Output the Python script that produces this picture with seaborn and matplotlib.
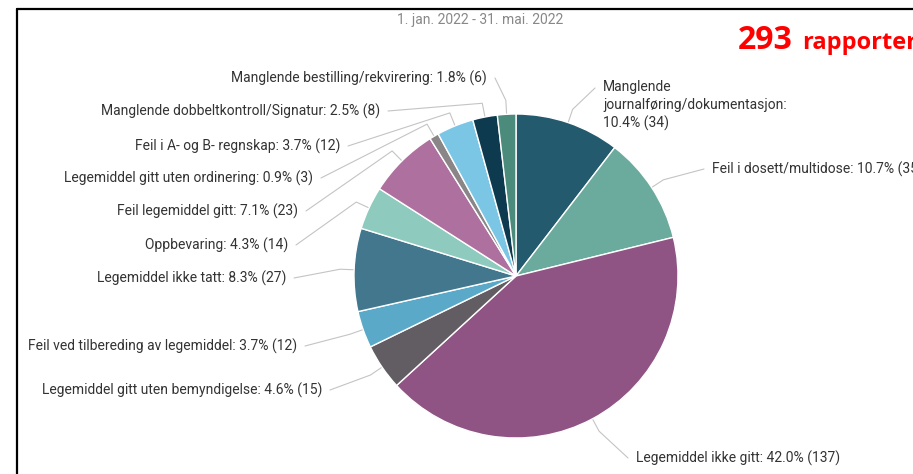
"""Pie chart of reported medication deviations, headless Agg backend."""

import matplotlib

matplotlib.use("Agg")

import matplotlib.pyplot as plt
import numpy as np
import seaborn as sns
from matplotlib.lines import Line2D

sns.set_theme(style="white")
plt.rcParams["font.family"] = ["Roboto", "DejaVu Sans"]

# data, clockwise from 12 o'clock
categories = [
    "Manglende\njournalføring/dokumentasjon",
    "Feil i dosett/multidose",
    "Legemiddel ikke gitt",
    "Legemiddel gitt uten bemyndigelse",
    "Feil ved tilbereding av legemiddel",
    "Legemiddel ikke tatt",
    "Oppbevaring",
    "Feil legemiddel gitt",
    "Legemiddel gitt uten ordinering",
    "Feil i A- og B- regnskap",
    "Manglende dobbeltkontroll/Signatur",
    "Manglende bestilling/rekvirering",
]
counts = [34, 35, 137, 15, 12, 27, 14, 23, 3, 12, 8, 6]
n_reports = 293
period = "1. jan. 2022 - 31. mai. 2022"

COLORS = [
    "#245a6e", "#6aab9d", "#8f5483", "#625d62", "#5ba9c8", "#42778d",
    "#8ecbbe", "#ae709f", "#8a8687", "#7cc6e5", "#0d3a4f", "#4b8b7c",
]

# label anchors in pixel coords (x, y, ha)
label_pos = [
    (603, 80, "left"), (712, 169, "left"), (636, 458, "left"),
    (322, 390, "right"), (297, 346, "right"), (286, 278, "right"),
    (288, 245, "right"), (298, 211, "right"), (313, 178, "right"),
    (340, 146, "right"), (380, 111, "right"), (487, 78, "right"),
]

W, H = 913, 474
cx, cy, R = 516, 276, 162

fig = plt.figure(figsize=(W / 100, H / 100), dpi=100)
ax = fig.add_axes([0, 0, 1, 1])

# y is inverted, so startangle=-90 + counterclock draws clockwise from top
ax.pie(
    counts,
    colors=COLORS,
    center=(cx, cy),
    radius=R,
    startangle=-90,
    counterclock=True,
    wedgeprops={"edgecolor": "white", "linewidth": 1},
)
ax.set_xlim(0, W)
ax.set_ylim(H, 0)
ax.set_aspect("equal")
ax.axis("off")

total = sum(counts)
cum = np.cumsum([0] + counts)
for i, (name, c) in enumerate(zip(categories, counts)):
    mid = np.deg2rad((cum[i] + c / 2) / total * 360)
    sx, sy = np.sin(mid), -np.cos(mid)
    lx, ly, ha = label_pos[i]
    text = f"{name}: {100 * c / total:.1f}% ({c})"
    if "\n" in name:
        text = f"{name}:\n{100 * c / total:.1f}% ({c})"
        ax.text(lx, ly, text, ha=ha, va="top", fontsize=10,
                color="#333333", linespacing=1.35)
        ly += 8
    else:
        ax.text(lx, ly, text, ha=ha, va="center", fontsize=10, color="#333333")
    ex = lx - 8 if ha == "left" else lx + 8
    px = [ex, cx + (R + 14) * sx, cx + (R + 1) * sx]
    py = [ly, cy + (R + 14) * sy, cy + (R + 1) * sy]
    ax.plot(px, py, color="#c4c4c4", lw=0.8, solid_capstyle="round")

ax.text(480, 20, period, ha="center", va="center", fontsize=10, color="#888888")
ax.text(738, 40, f"{n_reports}", ha="left", va="center", fontsize=23,
        fontweight="bold", color="#ff0000", family=["Open Sans", "DejaVu Sans"])
ax.text(802, 43, "rapporter", ha="left", va="center", fontsize=17,
        fontweight="bold", color="#ff0000", family=["Open Sans", "DejaVu Sans"])

# black frame at top and left
fig.add_artist(Line2D([17 / W, 1], [1 - 9 / H, 1 - 9 / H], color="black", lw=1.6))
fig.add_artist(Line2D([17 / W, 17 / W], [0, 1 - 9 / H], color="black", lw=1.6))

fig.savefig("out.png", dpi=100)
plt.close(fig)
